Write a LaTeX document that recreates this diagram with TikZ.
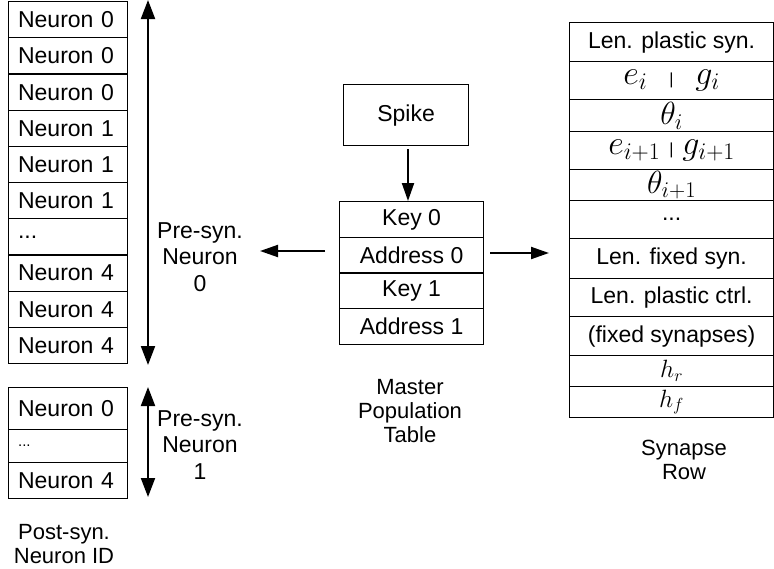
\RequirePackage{fix-cm}
\documentclass[tikz,border=0pt]{standalone}
\usepackage{fontspec}
\setmainfont{Liberation Sans}
\usetikzlibrary{arrows.meta}
\newcommand{\rowdots}{...}
\tikzset{
  cell/.style={
    draw,
    line width=1.2pt,
    anchor=north west,
    minimum width=119pt,
    minimum height=36.2pt,
    text width=100pt,
    inner xsep=9.5pt,
    align=left
  },
  mptcell/.style={
    draw,
    line width=1.2pt,
    anchor=north west,
    minimum width=144pt,
    minimum height=36pt
  },
  synrow/.style={
    draw,
    line width=1.2pt,
    anchor=north west,
    minimum width=204pt,
    inner sep=0pt
  },
  flow/.style={
    line width=2pt,
    -{Triangle[length=18pt,width=12pt]}
  },
  span/.style={
    line width=2pt,
    {Triangle[length=19pt,width=14pt]}-{Triangle[length=19pt,width=14pt]}
  },
  caption/.style={
    align=center,
    font=\fontsize{22}{24}\selectfont
  },
  every picture/.style = {
    x=1pt, y=-1pt,
    font=\fontsize{23}{26.5}\selectfont
  }
}
\begin{document}
\begin{tikzpicture}
  \useasboundingbox (0,0) rectangle (774,568);
  % post-synaptic neuron ids
  \foreach \k/\n in {0/0,1/0,2/0,3/1,4/1,5/1,7/4,8/4,9/4}{
    \node[cell] (pid\k) at (8,{1+36.2*\k}) {Neuron \n};
  }
  \node[cell] (pid6) at (8,{1+36.2*6}) {\rowdots};
  \node[cell, minimum height=42pt] (qid0) at (8,387) {Neuron 0};
  \node[cell, minimum height=33pt, font=\fontsize{15}{15}\selectfont] (qid1) at (8,429) {\rowdots};
  \node[cell, minimum height=36pt] (qid2) at (8,462) {Neuron 4};
  \node[caption] (postid) at (64,544) {Post-syn.\\Neuron ID};

  % pre-synaptic neuron spans
  \coordinate (top0) at (148,0);
  \coordinate (bot0) at (148,365);
  \coordinate (top1) at (148,387);
  \coordinate (bot1) at (148,497);
  \draw[span] (top0) -- (bot0);
  \draw[span] (top1) -- (bot1);
  \node[align=center] (pre0) at (200,257) {Pre-syn.\\Neuron\\0};
  \node[align=center] (pre1) at (200,445) {Pre-syn.\\Neuron\\1};

  % master population table
  \node[draw, line width=1.2pt, anchor=north west, minimum width=125pt, minimum height=61pt] (spike) at (343,84) {Spike};
  \node[mptcell] (key0) at (339,201) {Key 0};
  \node[mptcell] (addr0) at (339,237) {Address 0};
  \node[mptcell] (key1) at (339,272) {Key 1};
  \node[mptcell] (addr1) at (339,308) {Address 1};
  \node[caption] (mpt) at (410,411) {Master\\Population\\Table};
  \coordinate (spikeout) at (408,149);
  \coordinate (leftin) at (325,251);
  \coordinate (leftout) at (260,251);
  \coordinate (rightin) at (490,253);
  \coordinate (rightout) at (549,253);
  \draw[flow] (spikeout) -- (key0.north -| spikeout);
  \draw[flow] (leftin) -- (leftout);
  \draw[flow] (rightin) -- (rightout);

  % synapse row
  \node[synrow, minimum height=39pt] (lps) at (569,22) {Len. plastic syn.};
  \node[synrow, minimum height=38pt] (eg0) at (569,61)
    {\fontsize{34}{34}\selectfont$e_i$\hspace{22pt}{\fontsize{16}{16}\selectfont|}\hspace{22pt}$g_i$};
  \node[synrow, minimum height=32pt] (th0) at (569,99) {\fontsize{32}{32}\selectfont$\theta_i$};
  \node[synrow, minimum height=38pt] (eg1) at (569,131)
    {\fontsize{34}{34}\selectfont$e_{i+1}$\hspace{9pt}{\fontsize{16}{16}\selectfont|}\hspace{9pt}$g_{i+1}$};
  \node[synrow, minimum height=31pt] (th1) at (569,169) {\fontsize{32}{32}\selectfont$\theta_{i+1}$};
  \node[synrow, minimum height=38pt] (sdots) at (569,200) {\rowdots};
  \node[synrow, minimum height=40pt] (lfs) at (569,238) {Len. fixed syn.};
  \node[synrow, minimum height=38pt] (lpc) at (569,278) {Len. plastic ctrl.};
  \node[synrow, minimum height=39pt] (fsyn) at (569,316) {(fixed synapses)};
  \node[synrow, minimum height=31pt] (hr) at (569,355) {\fontsize{25}{25}\selectfont$h_r$};
  \node[synrow, minimum height=31pt] (hf) at (569,386) {\fontsize{25}{25}\selectfont$h_f$};
  \node[caption] (synlbl) at (684,460) {Synapse\\Row};
\end{tikzpicture}
\end{document}
